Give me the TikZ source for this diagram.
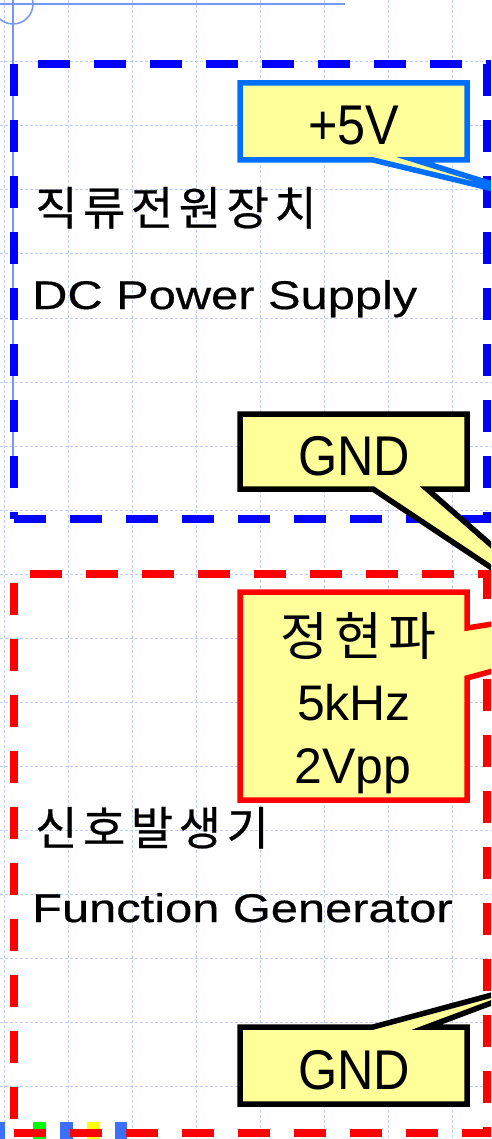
\documentclass[tikz,border=0pt]{standalone}
\usepackage{fontspec}
\setmainfont{Liberation Sans}
\newfontfamily\krfont[LetterSpace=12,FakeBold=0.5]{Noto Sans CJK KR}
\newfontfamily\krnotefont[LetterSpace=12]{Noto Sans CJK KR}
\newfontfamily\widefont[FakeStretch=1.22,FakeBold=0.5]{Liberation Sans}
\newfontfamily\narrowfont[FakeStretch=0.9]{Liberation Sans}
\definecolor{gridblue}{RGB}{190,205,250}
\definecolor{guideblue}{RGB}{120,150,245}
\definecolor{dcblue}{RGB}{0,0,255}
\definecolor{calloutblue}{RGB}{0,110,255}
\definecolor{fgred}{RGB}{255,0,0}
\definecolor{noteyellow}{RGB}{255,255,153}
\definecolor{handleblue}{RGB}{60,110,255}
\definecolor{handlegreen}{RGB}{0,255,0}
\definecolor{handleyellow}{RGB}{255,255,0}
\tikzset{
  gridline/.style={draw=gridblue, line width=1pt, dash pattern=on 3pt off 2pt},
  guideline/.style={draw=guideblue, line width=1.5pt},
  boxdash/.style={line width=8pt, dash pattern=on 32pt off 24pt},
  callout/.style={fill=noteyellow, line width=5.5pt, line join=miter},
  lefttext/.style={inner sep=0pt, anchor=base west},
  midtext/.style={inner sep=0pt, anchor=base},
}
\begin{document}
\begin{tikzpicture}[x=1pt,y=-1pt]
\useasboundingbox (0,0) rectangle (491,1139);
\clip (0,0) rectangle (491,1139);
% grid
\foreach \gx in {4,68,...,452} \draw[gridline] (\gx,-10) -- (\gx,1150);
\foreach \gy in {-2,62,...,1086} \draw[gridline] (-10,\gy) -- (500,\gy);
% guide lines
\draw[guideline] (0,4) -- (345,4);
\draw[guideline] (13,-5) -- (13,460);
\draw[guideline] (13,4) circle (20);
% handles
\fill[handleblue] (-8,1122) rectangle (5,1145);
\fill[handlegreen] (33,1122) rectangle (46,1145);
\fill[handleblue] (60,1122) rectangle (73,1145);
\fill[handleyellow] (87,1122) rectangle (100,1145);
\fill[handleblue] (115,1122) rectangle (127,1145);
% DC power supply box
\draw[boxdash, dcblue, dash phase=32pt] (14,64) -- (491,64);
\draw[boxdash, dcblue] (14,64) -- (14,519);
\draw[boxdash, dcblue] (487,64) -- (487,523);
\draw[boxdash, dcblue] (14,519) -- (491,519);
% Function generator box
\draw[boxdash, fgred, dash phase=40pt] (14,574) -- (491,574);
\draw[boxdash, fgred, dash phase=47pt] (14,574) -- (14,1133);
\draw[boxdash, fgred, dash phase=3pt] (487,570) -- (487,1137);
\draw[boxdash, fgred] (14,1133) -- (491,1133);
% labels
\node[lefttext] (dckr) at (35,225) {\krfont\fontsize{46}{54}\selectfont 직류전원장치};
\node[lefttext] (dcen) at (32,309) {\widefont\fontsize{40}{48}\selectfont DC Power Supply};
\node[lefttext] (fgkr) at (35,845) {\krfont\fontsize{46}{54}\selectfont 신호발생기};
\node[lefttext] (fgen) at (32,922) {\widefont\fontsize{40}{48}\selectfont Function Generator};
% callouts
\draw[callout, draw=calloutblue] (240,83) -- (467,83) -- (467,160) -- (415,160) -- (560,205) -- (373,160) -- (240,160) -- cycle;
\node[midtext] (plus5) at (354,145) {\narrowfont\fontsize{56}{60}\selectfont +5V};
\draw[callout, draw=black] (240,414) -- (467,414) -- (467,489) -- (427,489) -- (600,640) -- (373,489) -- (240,489) -- cycle;
\node[midtext] (gndtop) at (354,475) {\narrowfont\fontsize{56}{60}\selectfont GND};
\draw[callout, draw=fgred] (240,592) -- (467,592) -- (467,628) -- (900,560) -- (467,678) -- (467,800) -- (240,800) -- cycle;
\node[midtext] (sinekr) at (358,655) {\krnotefont\fontsize{52}{60}\selectfont 정현파};
\node[midtext] (sinefreq) at (354,720) {\fontsize{50}{60}\selectfont 5kHz};
\node[midtext] (sineamp) at (353,783) {\fontsize{50}{60}\selectfont 2Vpp};
\draw[callout, draw=black] (240,1027) -- (373,1027) -- (566,975) -- (427,1027) -- (467,1027) -- (467,1104) -- (240,1104) -- cycle;
\node[midtext] (gndbot) at (354,1089) {\narrowfont\fontsize{56}{60}\selectfont GND};
\end{tikzpicture}
\end{document}
